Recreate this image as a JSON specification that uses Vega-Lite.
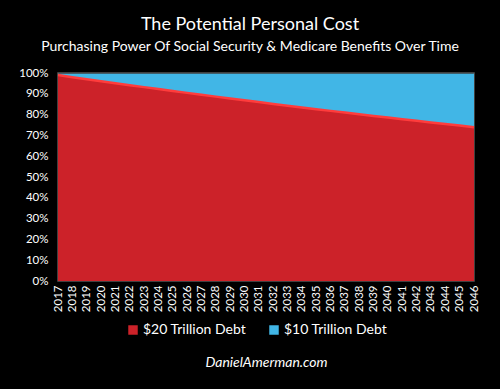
{
  "$schema": "https://vega.github.io/schema/vega-lite/v6.json",
  "width": 416,
  "height": 208,
  "autosize": {"type": "none"},
  "padding": {"left": 58, "top": 73, "right": 26, "bottom": 108},
  "background": "#000000",
  "title": {
    "text": "The Potential Personal Cost",
    "subtitle": "Purchasing Power Of Social Security & Medicare Benefits Over Time",
    "color": "#ffffff",
    "subtitleColor": "#ffffff",
    "font": "Lato",
    "subtitleFont": "Lato",
    "fontSize": 18,
    "fontWeight": "normal",
    "subtitleFontSize": 14,
    "subtitlePadding": 6,
    "offset": 13,
    "dx": -16,
    "anchor": "middle"
  },
  "data": {
    "values": [
      {"year": "2017", "series": "$20 Trillion Debt", "value": 99.00},
      {"year": "2018", "series": "$20 Trillion Debt", "value": 98.01},
      {"year": "2019", "series": "$20 Trillion Debt", "value": 97.03},
      {"year": "2020", "series": "$20 Trillion Debt", "value": 96.06},
      {"year": "2021", "series": "$20 Trillion Debt", "value": 95.10},
      {"year": "2022", "series": "$20 Trillion Debt", "value": 94.15},
      {"year": "2023", "series": "$20 Trillion Debt", "value": 93.21},
      {"year": "2024", "series": "$20 Trillion Debt", "value": 92.27},
      {"year": "2025", "series": "$20 Trillion Debt", "value": 91.35},
      {"year": "2026", "series": "$20 Trillion Debt", "value": 90.44},
      {"year": "2027", "series": "$20 Trillion Debt", "value": 89.53},
      {"year": "2028", "series": "$20 Trillion Debt", "value": 88.64},
      {"year": "2029", "series": "$20 Trillion Debt", "value": 87.75},
      {"year": "2030", "series": "$20 Trillion Debt", "value": 86.87},
      {"year": "2031", "series": "$20 Trillion Debt", "value": 86.01},
      {"year": "2032", "series": "$20 Trillion Debt", "value": 85.15},
      {"year": "2033", "series": "$20 Trillion Debt", "value": 84.29},
      {"year": "2034", "series": "$20 Trillion Debt", "value": 83.45},
      {"year": "2035", "series": "$20 Trillion Debt", "value": 82.62},
      {"year": "2036", "series": "$20 Trillion Debt", "value": 81.79},
      {"year": "2037", "series": "$20 Trillion Debt", "value": 80.97},
      {"year": "2038", "series": "$20 Trillion Debt", "value": 80.16},
      {"year": "2039", "series": "$20 Trillion Debt", "value": 79.36},
      {"year": "2040", "series": "$20 Trillion Debt", "value": 78.57},
      {"year": "2041", "series": "$20 Trillion Debt", "value": 77.78},
      {"year": "2042", "series": "$20 Trillion Debt", "value": 77.00},
      {"year": "2043", "series": "$20 Trillion Debt", "value": 76.23},
      {"year": "2044", "series": "$20 Trillion Debt", "value": 75.47},
      {"year": "2045", "series": "$20 Trillion Debt", "value": 74.72},
      {"year": "2046", "series": "$20 Trillion Debt", "value": 73.97},
      {"year": "2017", "series": "$10 Trillion Debt", "value": 99.6},
      {"year": "2018", "series": "$10 Trillion Debt", "value": 99.6},
      {"year": "2019", "series": "$10 Trillion Debt", "value": 99.6},
      {"year": "2020", "series": "$10 Trillion Debt", "value": 99.6},
      {"year": "2021", "series": "$10 Trillion Debt", "value": 99.6},
      {"year": "2022", "series": "$10 Trillion Debt", "value": 99.6},
      {"year": "2023", "series": "$10 Trillion Debt", "value": 99.6},
      {"year": "2024", "series": "$10 Trillion Debt", "value": 99.6},
      {"year": "2025", "series": "$10 Trillion Debt", "value": 99.6},
      {"year": "2026", "series": "$10 Trillion Debt", "value": 99.6},
      {"year": "2027", "series": "$10 Trillion Debt", "value": 99.6},
      {"year": "2028", "series": "$10 Trillion Debt", "value": 99.6},
      {"year": "2029", "series": "$10 Trillion Debt", "value": 99.6},
      {"year": "2030", "series": "$10 Trillion Debt", "value": 99.6},
      {"year": "2031", "series": "$10 Trillion Debt", "value": 99.6},
      {"year": "2032", "series": "$10 Trillion Debt", "value": 99.6},
      {"year": "2033", "series": "$10 Trillion Debt", "value": 99.6},
      {"year": "2034", "series": "$10 Trillion Debt", "value": 99.6},
      {"year": "2035", "series": "$10 Trillion Debt", "value": 99.6},
      {"year": "2036", "series": "$10 Trillion Debt", "value": 99.6},
      {"year": "2037", "series": "$10 Trillion Debt", "value": 99.6},
      {"year": "2038", "series": "$10 Trillion Debt", "value": 99.6},
      {"year": "2039", "series": "$10 Trillion Debt", "value": 99.6},
      {"year": "2040", "series": "$10 Trillion Debt", "value": 99.6},
      {"year": "2041", "series": "$10 Trillion Debt", "value": 99.6},
      {"year": "2042", "series": "$10 Trillion Debt", "value": 99.6},
      {"year": "2043", "series": "$10 Trillion Debt", "value": 99.6},
      {"year": "2044", "series": "$10 Trillion Debt", "value": 99.6},
      {"year": "2045", "series": "$10 Trillion Debt", "value": 99.6},
      {"year": "2046", "series": "$10 Trillion Debt", "value": 99.6}
    ]
  },
  "encoding": {
    "x": {
      "field": "year",
      "type": "ordinal",
      "scale": {"type": "point", "padding": 0},
      "axis": {
        "title": "DanielAmerman.com",
        "titleColor": "#ffffff",
        "titleFont": "Lato",
        "titleFontStyle": "italic",
        "titleFontWeight": "normal",
        "titleFontSize": 14,
        "titlePadding": 44,
        "labelAngle": -90,
        "labelColor": "#ffffff",
        "labelFont": "Lato",
        "labelFontSize": 11.5,
        "labelPadding": 4,
        "ticks": false,
        "domain": false,
        "grid": false
      }
    },
    "y": {
      "field": "value",
      "type": "quantitative",
      "scale": {"domain": [0, 100], "nice": false},
      "axis": {
        "title": null,
        "values": [0, 10, 20, 30, 40, 50, 60, 70, 80, 90, 100],
        "labelExpr": "datum.value + '%'",
        "labelColor": "#ffffff",
        "labelFont": "Lato",
        "labelFontSize": 11.5,
        "labelPadding": 10,
        "ticks": false,
        "domain": false,
        "grid": false
      }
    },
    "color": {
      "field": "series",
      "type": "nominal",
      "scale": {
        "domain": ["$20 Trillion Debt", "$10 Trillion Debt"],
        "range": ["#cc2229", "#41b6e6"]
      },
      "legend": {
        "orient": "none",
        "legendX": 68,
        "legendY": 250,
        "direction": "horizontal",
        "title": null,
        "symbolType": "square",
        "symbolSize": 90,
        "symbolOpacity": 1,
        "symbolStrokeWidth": 0,
        "labelColor": "#ffffff",
        "labelFont": "Lato",
        "labelFontSize": 14,
        "columnPadding": 20,
        "labelOffset": 3
      }
    }
  },
  "layer": [
    {
      "transform": [{"filter": "datum.series == '$10 Trillion Debt'"}],
      "mark": {"type": "area", "opacity": 1}
    },
    {
      "transform": [{"filter": "datum.series == '$20 Trillion Debt'"}],
      "mark": {"type": "area", "opacity": 1}
    },
    {
      "transform": [{"filter": "datum.series == '$20 Trillion Debt'"}],
      "mark": {"type": "line", "color": "#ff3c3c", "strokeWidth": 2.5},
      "encoding": {"color": {"value": "#ff3c3c"}}
    }
  ],
  "config": {
    "view": {"stroke": "#555555", "strokeWidth": 1.5}
  }
}
